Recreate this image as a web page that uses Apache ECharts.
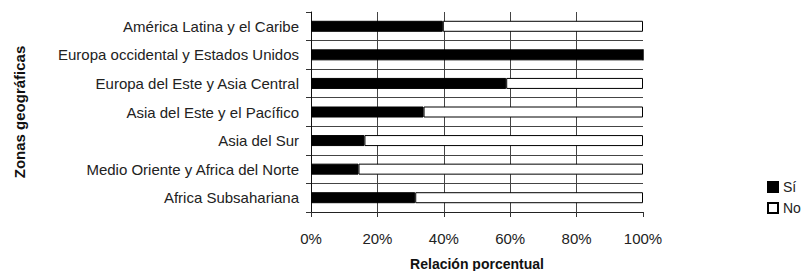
<!DOCTYPE html>
<html><head><meta charset="utf-8">
<script src="https://cdn.jsdelivr.net/npm/echarts@6/dist/echarts.min.js"></script>
<style>html,body{margin:0;padding:0;background:#fff}#c{width:804px;height:271px}</style>
</head><body><div id="c"></div>
<script>
const categories = ["América Latina y el Caribe","Europa occidental y Estados Unidos","Europa del Este y Asia Central","Asia del Este y el Pacífico","Asia del Sur","Medio Oriente y Africa del Norte","Africa Subsahariana"];
const siValues = [39.7, 100, 58.8, 33.9, 16.1, 14.3, 31.4];
const noValues = [60.3, 0, 41.2, 66.1, 83.9, 85.7, 68.6];
const xTicks = [0, 20, 40, 60, 80, 100];
const seriesNames = ["Sí", "No"];
const font = "'Liberation Sans', Arial, sans-serif";
const chart = echarts.init(document.getElementById('c'), null, {renderer:'svg'});
chart.setOption({
  animation: false,
  textStyle: {fontFamily: font},
  grid: {left: 311, right: 161, top: 12, bottom: 59, containLabel: false, outerBoundsMode: 'none'},
  legend: {
    orient: 'vertical', left: 762, top: 175, itemWidth: 10, itemHeight: 10, itemGap: 7,
    textStyle: {fontFamily: font, fontSize: 14, color: '#222'},
    data: [{name: seriesNames[0], icon: 'rect'}, {name: seriesNames[1], icon: 'rect'}]
  },
  xAxis: {
    type: 'value', min: xTicks[0], max: xTicks[xTicks.length-1], interval: 20,
    name: 'Relación porcentual', nameLocation: 'middle', nameGap: 45,
    nameTextStyle: {fontFamily: font, fontSize: 14, fontWeight: 'bold', color: '#111'},
    axisLine: {show: true, onZero: false, lineStyle: {color: '#222', width: 1}},
    axisTick: {show: true, length: 5, lineStyle: {color: '#333'}},
    axisLabel: {fontFamily: font, fontSize: 15, color: '#222', margin: 19, formatter: v => v + '%'},
    splitLine: {show: true, showMinLine: false, showMaxLine: false, lineStyle: {color: '#444', width: 1}}
  },
  yAxis: {
    type: 'category', data: categories, inverse: true,
    name: 'Zonas geográficas', nameLocation: 'middle', nameGap: 284, nameRotate: 90,
    nameTextStyle: {fontFamily: font, fontSize: 15, fontWeight: 'bold', color: '#111'},
    axisLine: {show: true, lineStyle: {color: '#111', width: 1}},
    axisTick: {show: true, length: 5, lineStyle: {color: '#333'}},
    axisLabel: {fontFamily: font, fontSize: 15, color: '#222', margin: 12},
    splitLine: {show: true, interval: 0, showMinLine: false, showMaxLine: false, lineStyle: {color: '#444', width: 1}}
  },
  series: [
    {name: seriesNames[0], type: 'bar', stack: 's', data: siValues, barWidth: 11,
     itemStyle: {color: '#000', borderColor: '#000', borderWidth: 1}},
    {name: seriesNames[1], type: 'bar', stack: 's', data: noValues, barWidth: 11,
     itemStyle: {color: '#fff', borderColor: '#000', borderWidth: 1}}
  ]
});
</script></body></html>
